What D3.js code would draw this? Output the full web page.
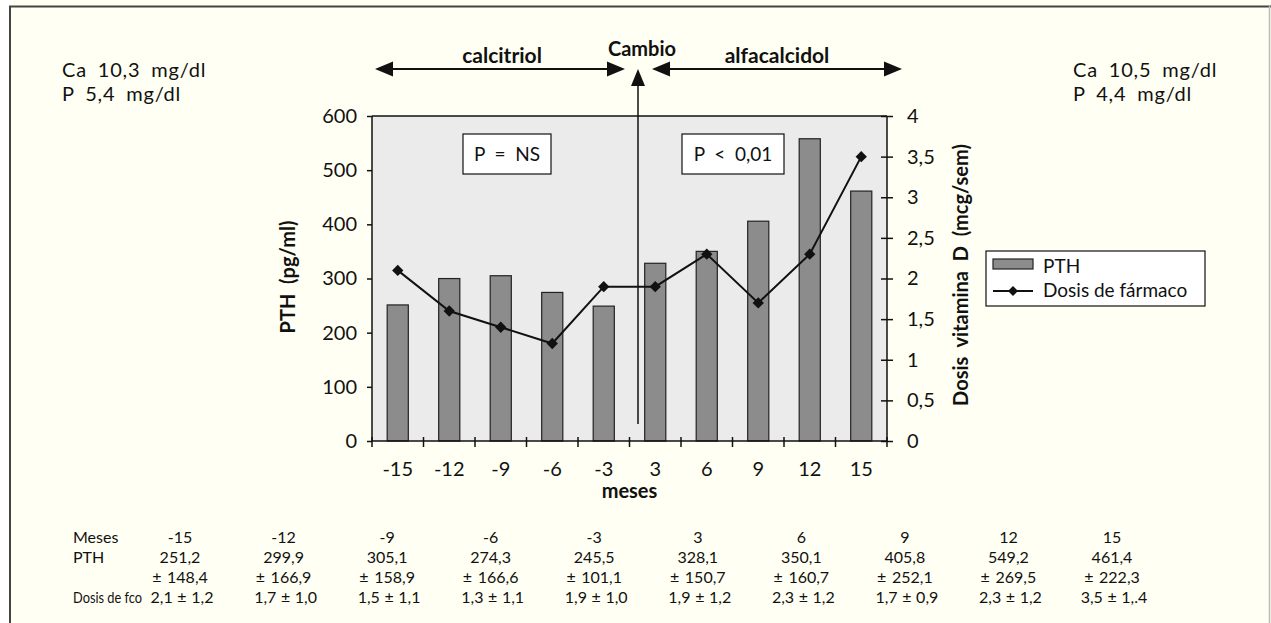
<!DOCTYPE html>
<html><head><meta charset="utf-8">
<script src="https://cdn.jsdelivr.net/npm/d3@7/dist/d3.min.js"></script>
<style>
html,body{margin:0;padding:0;background:#fff;}
svg{display:block;}
text{font-family:Lato,"Noto Sans",sans-serif;fill:#111;white-space:pre;}
</style></head>
<body>
<svg id="c" width="1271" height="623"></svg>
<script>
// ---- data ----
const months = ["-15","-12","-9","-6","-3","3","6","9","12","15"];
const pthValues = [251.2, 299.9, 305.1, 274.3, 249, 328.1, 350.1, 405.8, 558, 461.4];
const doseValues = [2.1, 1.6, 1.4, 1.2, 1.9, 1.9, 2.3, 1.7, 2.3, 3.5];
const leftTicks = [0,100,200,300,400,500,600];
const rightTicks = [0,0.5,1,1.5,2,2.5,3,3.5,4];
const rightTickLabels = ["0","0,5","1","1,5","2","2,5","3","3,5","4"];
const tableLabels = ["Meses","PTH","","Dosis de fco"];
const tablePthMean = ["251,2","299,9","305,1","274,3","245,5","328,1","350,1","405,8","549,2","461,4"];
const tablePthSd = ["± 148,4","± 166,9","± 158,9","± 166,6","± 101,1","± 150,7","± 160,7","± 252,1","± 269,5","± 222,3"];
const tableDose = ["2,1 ± 1,2","1,7 ± 1,0","1,5 ± 1,1","1,3 ± 1,1","1,9 ± 1,0","1,9 ± 1,2","2,3 ± 1,2","1,7 ± 0,9","2,3 ± 1,2","3,5 ± 1,.4"];
const seriesNames = ["PTH","Dosis de fármaco"];

const svg = d3.select("#c");
// background & frame
svg.append("rect").attr("x",0).attr("y",0).attr("width",1271).attr("height",623).attr("fill","#fffff3");
svg.append("rect").attr("x",0).attr("y",0).attr("width",9).attr("height",623).attr("fill","#fff");
svg.append("line").attr("x1",9).attr("x2",1271).attr("y1",6.5).attr("y2",6.5).attr("stroke","#444").attr("stroke-width",2);
svg.append("line").attr("x1",10).attr("x2",10).attr("y1",6).attr("y2",623).attr("stroke","#444").attr("stroke-width",2);
svg.append("line").attr("x1",1269.5).attr("x2",1269.5).attr("y1",6).attr("y2",623).attr("stroke","#bbb").attr("stroke-width",1.5);

const L=372, R=887, T=116, B=441;
const x = d3.scaleBand().domain(months).range([L,R]).padding(0);
const yL = d3.scaleLinear().domain([0,600]).range([B,T]);
const yR = d3.scaleLinear().domain([0,4]).range([B,T]);

svg.append("rect").attr("x",L).attr("y",T).attr("width",R-L).attr("height",B-T).attr("fill","#ebebeb");
svg.append("line").attr("x1",L).attr("x2",R).attr("y1",T).attr("y2",T).attr("stroke","#111").attr("stroke-width",1.5);

// bars
const bw = x.bandwidth()*0.41;
svg.append("g").selectAll("rect").data(pthValues).join("rect")
  .attr("x",(d,i)=>x(months[i])+x.bandwidth()/2-bw/2)
  .attr("y",d=>yL(d)).attr("width",bw).attr("height",d=>B-yL(d))
  .attr("fill","#8c8c8c").attr("stroke","#222").attr("stroke-width",1.2);

// axes
const gl = svg.append("g").attr("transform",`translate(${L},0)`)
  .call(d3.axisLeft(yL).tickValues(leftTicks).tickSize(5).tickPadding(10).tickFormat(d3.format("d")));
const gr = svg.append("g").attr("transform",`translate(${R},0)`)
  .call(d3.axisRight(yR).tickValues(rightTicks).tickSizeInner(6).tickSizeOuter(0).tickPadding(14)
    .tickFormat((d,i)=>rightTickLabels[i]));
gr.selectAll(".tick line").attr("x1",-6).attr("x2",6);
const gx = svg.append("g").attr("transform",`translate(0,${B})`)
  .call(d3.axisBottom(x).tickSize(0).tickPadding(21));
// boundary ticks
const bounds = months.map((m,i)=>x(m)).concat([R]);
gx.append("g").selectAll("line").data(bounds).join("line")
  .attr("x1",d=>d).attr("x2",d=>d).attr("y1",-4).attr("y2",6).attr("stroke","#111").attr("stroke-width",1.5);
[gl,gr,gx].forEach(g=>{
  g.selectAll(".domain").attr("stroke","#111").attr("stroke-width",1.5);
  g.selectAll(".tick line").attr("stroke","#111").attr("stroke-width",1.5);
  g.selectAll("text").attr("font-size",20).attr("fill","#111");
});
gl.select(".domain").attr("d",`M0,${T}V${B}`);
gr.select(".domain").attr("d",`M0,${T}V${B}`);
gx.select(".domain").attr("d",`M${L},0H${R}`);

// dose line
const line = d3.line().x((d,i)=>x(months[i])+x.bandwidth()/2).y(d=>yR(d));
svg.append("path").datum(doseValues).attr("d",line).attr("fill","none").attr("stroke","#111").attr("stroke-width",2);
svg.append("g").selectAll("path").data(doseValues).join("path")
  .attr("transform",(d,i)=>`translate(${x(months[i])+x.bandwidth()/2},${yR(d)}) rotate(45)`)
  .attr("d",d3.symbol().type(d3.symbolSquare).size(64)).attr("fill","#111");

// axis titles
svg.append("text").attr("transform","translate(295,277) rotate(-90)").attr("text-anchor","middle")
  .attr("font-weight","bold").attr("font-size",20).text("PTH  (pg/ml)");
svg.append("text").attr("transform","translate(968,275) rotate(-90)").attr("text-anchor","middle")
  .attr("font-weight","bold").attr("font-size",20).text("Dosis  vitamina  D  (mcg/sem)");
svg.append("text").attr("x",(x("-3")+x("3")+x.bandwidth())/2).attr("y",498).attr("text-anchor","middle")
  .attr("font-weight","bold").attr("font-size",20).text("meses");

// P boxes
[[463,551,"P  =  NS"],[682,784,"P  <  0,01"]].forEach(b=>{
  svg.append("rect").attr("x",b[0]).attr("y",134).attr("width",b[1]-b[0]).attr("height",40)
    .attr("fill","#fff").attr("stroke","#111").attr("stroke-width",1.2);
  svg.append("text").attr("x",(b[0]+b[1])/2).attr("y",161).attr("text-anchor","middle").attr("font-size",19).text(b[2]);
});

// arrows
const arrowY = 69;
function hArrow(x1,x2){
  svg.append("line").attr("x1",x1+10).attr("x2",x2-10).attr("y1",arrowY).attr("y2",arrowY).attr("stroke","#111").attr("stroke-width",2);
  svg.append("path").attr("d",`M${x1},${arrowY}L${x1+18},${arrowY-7.5}L${x1+18},${arrowY+7.5}Z`).attr("fill","#111");
  svg.append("path").attr("d",`M${x2},${arrowY}L${x2-18},${arrowY-7.5}L${x2-18},${arrowY+7.5}Z`).attr("fill","#111");
}
hArrow(375,625); hArrow(652,902);
const vx = 638;
svg.append("line").attr("x1",vx).attr("x2",vx).attr("y1",80).attr("y2",424).attr("stroke","#111").attr("stroke-width",1.5);
svg.append("path").attr("d",`M${vx},69L${vx-7},86L${vx+7},86Z`).attr("fill","#111");
svg.append("text").attr("x",502).attr("y",63).attr("text-anchor","middle").attr("font-weight","bold").attr("font-size",21).text("calcitriol");
svg.append("text").attr("x",642).attr("y",56).attr("text-anchor","middle").attr("font-weight","bold").attr("font-size",20).text("Cambio");
svg.append("text").attr("x",777).attr("y",63).attr("text-anchor","middle").attr("font-weight","bold").attr("font-size",21).text("alfacalcidol");

// side notes
const noteStyle = s=>s.attr("font-size",20).attr("word-spacing",5).attr("letter-spacing",0.8);
noteStyle(svg.append("text").attr("x",62).attr("y",77).text("Ca 10,3 mg/dl"));
noteStyle(svg.append("text").attr("x",62).attr("y",101).text("P 5,4 mg/dl"));
noteStyle(svg.append("text").attr("x",1073).attr("y",77).text("Ca 10,5 mg/dl"));
noteStyle(svg.append("text").attr("x",1073).attr("y",101).text("P 4,4 mg/dl"));

// legend
svg.append("rect").attr("x",986).attr("y",251).attr("width",219).attr("height",55).attr("fill","#fff").attr("stroke","#111").attr("stroke-width",1.2);
svg.append("rect").attr("x",993).attr("y",259).attr("width",40).attr("height",10).attr("fill","#8c8c8c").attr("stroke","#222").attr("stroke-width",1.2);
svg.append("line").attr("x1",993).attr("x2",1033).attr("y1",291).attr("y2",291).attr("stroke","#111").attr("stroke-width",2);
svg.append("path").attr("transform","translate(1013,291) rotate(45)").attr("d",d3.symbol().type(d3.symbolSquare).size(50)).attr("fill","#111");
svg.append("text").attr("x",1043).attr("y",273).attr("font-size",19).text(seriesNames[0]);
svg.append("text").attr("x",1043).attr("y",297).attr("font-size",19).text(seriesNames[1]);

// table
const tx = d3.scalePoint().domain(months).range([180,1112]);
const rowsY = [543,563,583,603];
const rows = [months, tablePthMean, tablePthSd, tableDose];
const tg = svg.append("g");
tableLabels.forEach((t,r)=>{
  if(!t) return;
  if (r===3) {
    tg.append("text").attr("transform",`translate(73,${rowsY[r]}) scale(0.8,1)`).attr("font-size",16).text(t);
  } else {
    tg.append("text").attr("x",73).attr("y",rowsY[r]).attr("font-size",16).text(t);
  }
});
rows.forEach((arr,r)=>{
  tg.append("g").selectAll("text").data(arr).join("text")
    .attr("x",(d,i)=>tx(months[i])+(r===3?2:0)).attr("y",rowsY[r]).attr("text-anchor","middle").attr("font-size",16)
    .attr("word-spacing",r===3?0.5:1.5).text(d=>d);
});
</script>
</body></html>
